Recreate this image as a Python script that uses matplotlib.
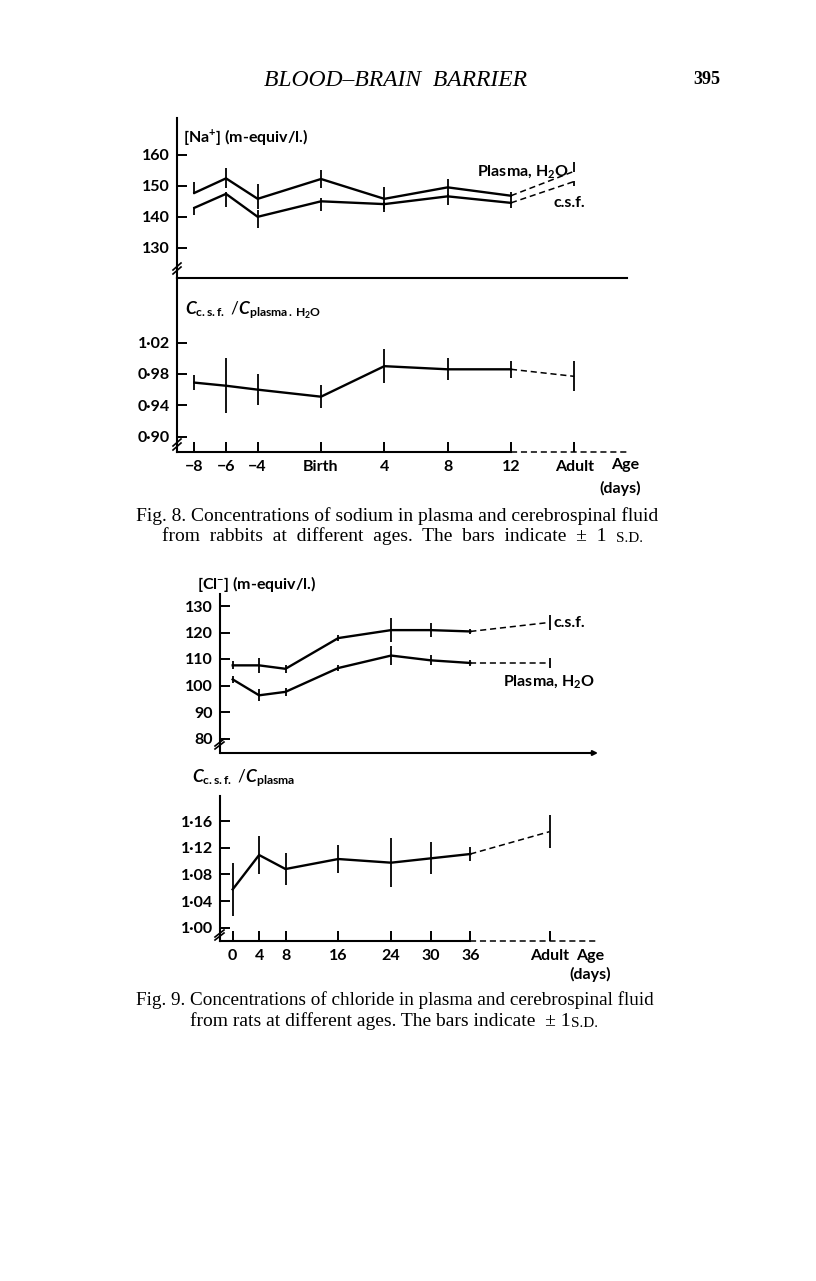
import numpy as np
import matplotlib
matplotlib.use('Agg')
import matplotlib.pyplot as plt
from matplotlib.lines import Line2D
from matplotlib.text import Annotation

# ---- data ----
# Fig. 8, rabbits, sodium (Adult is placed at day 16 on the axis)
na_days = [-8, -6, -4, 0, 4, 8, 12, 16]
na_labels = ['\u22128', '\u22126', '\u22124', 'Birth', '4', '8', '12', 'Adult']
na_plasma = [147.6, 152.3, 145.7, 152.1, 145.7, 149.4, 146.7, 154.6]
na_plasma_lo = [0.2, 3.2, 3.3, 3.0, 3.3, 2.8, 1.1, 0.2]
na_plasma_hi = [3.4, 3.5, 4.7, 2.9, 3.9, 2.8, 1.1, 3.1]
na_csf = [142.8, 147.3, 139.9, 144.9, 144.0, 146.5, 144.4, 151.3]
na_csf_lo = [2.2, 4.2, 3.5, 3.0, 2.5, 2.9, 1.6, 1.3]
na_csf_hi = [0.3, 0.5, 2.3, 1.1, 0.8, 0.8, 1.1, 0.2]
na_ratio = [0.969, 0.965, 0.960, 0.951, 0.990, 0.986, 0.986, 0.977]
na_ratio_err = [0.010, 0.035, 0.020, 0.015, 0.022, 0.014, 0.011, 0.019]

# Fig. 9, rats, chloride (Adult is placed at day 48)
cl_days = [0, 4, 8, 16, 24, 30, 36, 48]
cl_labels = ['0', '4', '8', '16', '24', '30', '36', 'Adult']
cl_csf = [107.6, 107.6, 106.3, 117.9, 120.9, 120.9, 120.4, 123.8]
cl_csf_err = [1.5, 2.7, 1.4, 1.1, 4.4, 2.5, 0.9, 2.7]
cl_plasma = [102.3, 96.3, 97.6, 106.6, 111.3, 109.5, 108.5, 108.5]
cl_plasma_err = [1.2, 2.2, 1.4, 1.2, 3.5, 1.9, 1.0, 1.9]
cl_ratio = [1.0575, 1.109, 1.088, 1.103, 1.0975, 1.104, 1.1105, 1.144]
cl_ratio_err = [0.040, 0.029, 0.024, 0.0205, 0.0365, 0.024, 0.010, 0.025]

na_top_ticks = [130, 140, 150, 160]
na_bot_ticks = [0.90, 0.94, 0.98, 1.02]
cl_top_ticks = [80, 90, 100, 110, 120, 130]
cl_bot_ticks = [1.00, 1.04, 1.08, 1.12, 1.16]

W, H = 816, 1281
SANS = ['Lato', 'DejaVu Sans']
SERIF = ['Liberation Serif', 'DejaVu Serif']
FS = 11.5
plt.rcParams['font.family'] = SANS
plt.rcParams['mathtext.fontset'] = 'custom'
plt.rcParams['mathtext.rm'] = 'Lato:bold'
plt.rcParams['mathtext.it'] = 'Lato:italic:bold'
plt.rcParams['mathtext.bf'] = 'Lato:bold'

fig = plt.figure(figsize=(W / 100, H / 100), dpi=100)


def box(l, r, t, b):
    return fig.add_axes([l / W, 1 - b / H, (r - l) / W, (b - t) / H])


def pline(xs, ys, **kw):
    fig.add_artist(Line2D([x / W for x in xs], [1 - y / H for y in ys],
                          transform=fig.transFigure, color='k', lw=1.2, **kw))


def ptext(x, y, s, **kw):
    kw.setdefault('va', 'center')
    return fig.text(x / W, 1 - y / H, s, **kw)


def setup(ax, l, r, t, b, x0, xs, ypx, yv, ys):
    # x0: pixel of day 0, xs: px per day; ypx/yv: a reference tick, ys: px per unit
    ax.set_xlim((l - x0) / xs, (r - x0) / xs)
    ax.set_ylim(yv - (b - ypx) / ys, yv - (t - ypx) / ys)
    ax.patch.set_visible(False)
    for s in ['top', 'right', 'bottom']:
        ax.spines[s].set_visible(False)
    ax.spines['left'].set_linewidth(1.5)
    ax.tick_params(axis='y', direction='in', length=7, width=1.4, pad=5,
                   labelsize=FS)
    ax.tick_params(axis='x', direction='in', length=7, width=1.4, pad=6,
                   labelsize=FS)


def bold(ax):
    for lab in ax.get_yticklabels() + ax.get_xticklabels():
        lab.set_fontweight('bold')


def series(ax, x, y, err):
    ax.plot(x[:7], y[:7], color='k', lw=1.7, solid_joinstyle='miter')
    ax.plot(x[6:], y[6:], color='k', lw=1.1, ls=(0, (4, 2.5)))
    ax.errorbar(x, y, yerr=err, fmt='none', ecolor='k', elinewidth=1.3, capsize=0)


def base_axis(ax, xsplit):
    lo = ax.get_ylim()[0]
    x0, x1 = ax.get_xlim()
    ax.plot([x0, xsplit], [lo, lo], color='k', lw=1.5, clip_on=False)
    ax.plot([xsplit, x1], [lo, lo], color='k', lw=1.1, ls=(0, (4, 2.5)), clip_on=False)


def dot_labels(vals):
    return [('%.2f' % v).replace('.', '\u00b7') for v in vals]


# ---------------- Fig. 8 ----------------
ax = box(177, 627, 118, 278)
setup(ax, 177, 627, 118, 278, 321, 15.83, 154.5, 160, 3.1)
ax.spines['bottom'].set_visible(True)
ax.spines['bottom'].set_linewidth(1.5)
ax.set_xticks([])
ax.set_yticks(na_top_ticks)
ax.set_yticklabels([str(v) for v in na_top_ticks])
bold(ax)
series(ax, na_days, na_plasma, [na_plasma_lo, na_plasma_hi])
series(ax, na_days, na_csf, [na_csf_lo, na_csf_hi])
ptext(183, 137, '[Na$^{+}$] (m-equiv/l.)', fontsize=FS, fontweight='bold')
ptext(569, 172, 'Plasma, H$_2$O', fontsize=FS, fontweight='bold', ha='right')
ptext(553, 203, 'c.s.f.', fontsize=FS, fontweight='bold')
pline([173, 181], [270, 263])
pline([173, 181], [274, 267])

ax = box(177, 627, 278, 452)
setup(ax, 177, 627, 278, 452, 321, 15.83, 342.7, 1.02, 782.5)
ax.set_yticks(na_bot_ticks)
ax.set_yticklabels(dot_labels(na_bot_ticks))
ax.set_xticks(na_days)
ax.set_xticklabels(na_labels)
bold(ax)
base_axis(ax, na_days[6])
series(ax, na_days, na_ratio, na_ratio_err)
ptext(185, 310, '$\\mathit{C}_{\\mathrm{c.s.f.}}$ /$\\mathit{C}_{\\mathrm{plasma\\,.\\,H_2O}}$',
      fontsize=12.5)
pline([173, 181], [446, 439])
pline([173, 181], [450, 443])
ptext(625, 465, 'Age', fontsize=FS, fontweight='bold', ha='center')
ptext(620, 488, '(days)', fontsize=FS, fontweight='bold', ha='center')

# ---------------- Fig. 9 ----------------
ax = box(220, 598, 594, 753)
setup(ax, 220, 598, 594, 753, 232.7, 6.6, 606, 130, 2.65)
ax.set_xticks([])
ax.set_yticks(cl_top_ticks)
ax.set_yticklabels([str(v) for v in cl_top_ticks])
bold(ax)
ax.annotate('', xy=(1, 0), xytext=(0, 0), xycoords='axes fraction',
            arrowprops=dict(arrowstyle='-|>', lw=1.5, color='k',
                            mutation_scale=7, shrinkA=0, shrinkB=0))
series(ax, cl_days, cl_csf, cl_csf_err)
series(ax, cl_days, cl_plasma, cl_plasma_err)
ptext(197, 584, '[Cl$^{-}$] (m-equiv/l.)', fontsize=FS, fontweight='bold')
ptext(553, 623, 'c.s.f.', fontsize=FS, fontweight='bold')
ptext(503, 682, 'Plasma, H$_2$O', fontsize=FS, fontweight='bold')
pline([215, 224], [746, 739])
pline([215, 224], [749, 742])

ax = box(220, 598, 796, 941)
setup(ax, 220, 598, 796, 941, 232.7, 6.6, 821, 1.16, 667)
ax.set_yticks(cl_bot_ticks)
ax.set_yticklabels(dot_labels(cl_bot_ticks))
ax.set_xticks(cl_days)
ax.set_xticklabels(cl_labels)
bold(ax)
base_axis(ax, cl_days[6])
series(ax, cl_days, cl_ratio, cl_ratio_err)
ptext(192, 778, '$\\mathit{C}_{\\mathrm{c.s.f.}}$ /$\\mathit{C}_{\\mathrm{plasma}}$',
      fontsize=12.5)
pline([215, 224], [937, 930])
pline([215, 224], [940, 933])
ptext(590, 956, 'Age', fontsize=FS, fontweight='bold', ha='center')
ptext(590, 974, '(days)', fontsize=FS, fontweight='bold', ha='center')

# ---------------- page text ----------------
r = fig.canvas.get_renderer()


def fit(t, width):
    w = t.get_window_extent(r).width
    t.set_fontsize(t.get_fontsize() * width / w)


def small_caps_after(t, s, size):
    fig.add_artist(Annotation(s, xy=(1, 0), xycoords=t, va='bottom', ha='left',
                              fontsize=size, family=SERIF, annotation_clip=False))


t = ptext(395, 80, 'BLOOD\u2013BRAIN  BARRIER', fontsize=14, family=SERIF,
          style='italic', ha='center')
fit(t, 264)
ptext(720, 80, '395', fontsize=13, family=SERIF, fontweight='bold', ha='right')

t = ptext(136, 516, 'Fig. 8. Concentrations of sodium in plasma and cerebrospinal fluid',
          fontsize=13, family=SERIF)
fit(t, 518)
cs = t.get_fontsize()
t2 = ptext(162, 536, 'from  rabbits  at  different  ages.  The  bars  indicate  \u00b1  1  ',
           fontsize=cs, family=SERIF)
small_caps_after(t2, 'S.D.', cs * 0.78)

t = ptext(136, 1000, 'Fig. 9. Concentrations of chloride in plasma and cerebrospinal fluid',
          fontsize=cs, family=SERIF)
fit(t, 518)
t3 = ptext(190, 1021, 'from rats at different ages. The bars indicate  \u00b1 1',
           fontsize=cs, family=SERIF)
small_caps_after(t3, 'S.D.', cs * 0.78)

fig.savefig('out.png', dpi=100, facecolor='white')
